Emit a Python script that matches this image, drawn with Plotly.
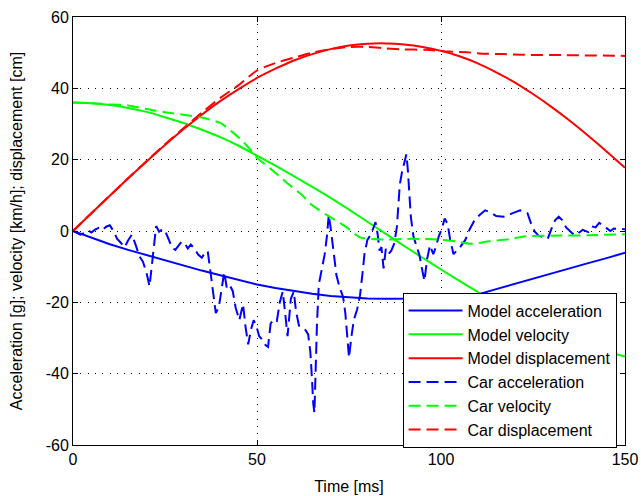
import plotly.graph_objects as go

# ---------------- data ----------------
t_model = [0, 5, 10, 15, 20, 25, 30, 35, 40, 45, 50, 55, 60, 65, 70, 75, 80, 85,
           90, 95, 100, 105, 110, 115, 120, 125, 130, 135, 140, 145, 150]

t_model_acc = [0, 5, 10, 15, 20, 25, 30, 35, 40, 45, 50, 55, 60, 65, 70, 75, 80, 85,
               90, 95, 100, 105, 108, 110, 115, 120, 125, 130, 135, 140, 145, 150]
model_acc = [0, -1.9, -3.7, -5.3, -6.8, -8.3, -9.7, -11.1, -12.4, -13.7, -15.0, -16.0,
             -16.9, -17.6, -18.2, -18.6, -18.9, -19.0, -19.0, -19.0, -19.0, -18.9, -18.5,
             -17.8, -16.3, -14.8, -13.4, -11.9, -10.5, -9.0, -7.6, -6.1]

model_vel = [36.0, 35.8, 35.3, 34.5, 33.4, 31.9, 30.3, 28.4, 26.3, 23.9, 21.1, 18.3,
             15.4, 12.4, 9.3, 6.0, 2.6, -0.8, -4.2, -7.5, -10.8, -14.0, -17.1, -20.0,
             -22.8, -25.4, -27.8, -30.0, -32.0, -33.7, -35.2]

model_disp = [0, 5.0, 9.9, 14.8, 19.5, 24.1, 28.5, 32.6, 36.4, 39.8, 42.9, 45.5, 47.8,
              49.6, 51.0, 52.0, 52.5, 52.6, 52.3, 51.6, 50.5, 49.0, 47.0, 44.5, 41.7,
              38.4, 34.8, 30.9, 26.7, 22.3, 17.7]

t_car_acc = [0, 1, 2, 3, 4, 5, 6, 7, 8, 9, 10, 11, 12, 13, 14, 15, 16, 17, 18, 19, 20,
             20.8, 21.4, 22.0, 22.6, 23.4, 24.4, 25.2, 26.2, 27.0, 27.8, 28.6, 29.5,
             30.3, 31.2, 32.0, 33.0, 34.0, 35.0, 35.8, 36.6, 37.3, 38.0, 38.8, 39.6,
             40.3, 41.1, 41.8, 42.6, 43.4, 44.2, 45.2, 46.2, 46.9, 47.6, 48.4, 49.1,
             49.8, 50.6, 51.4, 52.3, 53.0, 53.7, 54.6, 55.4, 56.2, 57.0, 57.6, 58.3,
             59.2, 60.0, 60.6, 61.4, 62.3, 63.2, 63.9, 64.5, 64.8, 65.0, 65.3, 65.6,
             65.9, 66.3, 66.8, 67.7, 68.4, 69.0, 69.5, 70.0, 70.5, 71.0, 71.6, 72.5,
             73.4, 74.0, 74.5, 75.0, 75.6, 76.3, 77.2, 78.0, 78.6, 79.2, 80.0, 80.8,
             81.5, 82.2, 82.8, 83.3, 83.8, 84.4, 85.0, 85.7, 86.5, 87.3, 88.0, 88.4,
             88.8, 89.4, 90.0, 90.6, 91.0, 91.4, 91.8, 92.5, 93.3, 94.2, 95.0, 95.5,
             96.2, 97.0, 97.9, 98.6, 99.4, 100.2, 101.0, 101.8, 102.5, 103.4, 104.3,
             105.2, 106.6, 107.8, 109.1, 110.5, 112.0, 113.5, 115.0, 117.0, 119.5,
             121.5, 123.5, 124.5, 125.5, 126.5, 128.0, 129.0, 129.9, 131.0, 132.0,
             133.0, 134.0, 135.5, 136.5, 137.5, 138.5, 140.0, 141.0, 142.0, 143.0,
             144.5, 146.0, 147.0, 148.5, 150.0]
car_acc = [0, -0.6, -1.0, -0.6, 0.2, -0.4, 0.4, 0.9, 0.3, 1.2, 1.6, 0.0, -2.2, -3.3,
           -4.6, -2.6, -1.0, -3.8, -7.0, -8.6, -11.8, -15.5, -10.0, -3.0, 1.4, -0.2,
           0.6, -0.4, -3.0, -4.8, -5.3, -4.3, -3.0, -3.4, -4.9, -3.8, -4.9, -6.6, -7.5,
           -6.2, -5.6, -11.0, -17.0, -23.0, -21.5, -16.5, -11.5, -16.0, -15.2, -16.8,
           -21.5, -25.0, -20.5, -27.0, -31.8, -27.5, -25.0, -26.5, -29.5, -30.5, -32.0,
           -32.5, -26.0, -24.7, -25.2, -20.0, -17.0, -22.5, -29.5, -19.0, -17.0, -22.5,
           -26.5, -27.0, -27.8, -29.0, -34.0, -39.0, -44.0, -48.5, -51.0, -38.0, -26.0,
           -15.0, -10.0, -6.5, -1.5, 4.5, 1.0, -3.0, -8.0, -12.5, -16.0, -18.5, -23.0,
           -29.0, -35.5, -30.0, -25.0, -22.0, -18.0, -12.5, -6.5, -2.5, -1.2, 0.5, 2.5,
           -1.0, -5.5, -4.5, -10.5, -5.0, -6.5, -5.5, -3.5, 1.0, 7.0, 13.0, 16.5, 19.5,
           21.5, 17.0, 11.0, 4.0, -1.5, -4.0, -7.0, -11.5, -14.0, -8.0, -4.0, -6.5, -4.5,
           -1.5, 0.5, 3.5, 2.0, -2.5, -6.5, -5.5, -4.5, -2.5, 0.5, 3.0, 4.5, 5.8, 5.2,
           4.2, 4.0, 5.0, 5.8, 5.0, 2.0, -0.2, -1.3, -1.8, -2.2, 0.3, 3.0, 4.0, 3.0, 1.0,
           -0.5, -1.2, -0.5, 0.3, -0.3, 1.3, 1.0, 2.3, 1.2, 0.0, 0.7, 0.5, 0.5]

t_car_vel = [0, 5, 10, 15, 20, 25, 30, 35, 40, 43, 46, 48, 50, 54, 58, 62, 65, 70, 74,
             78, 84, 92, 99, 104, 108, 113, 119, 123, 130, 140, 150]
car_vel = [36.0, 35.8, 35.5, 35.2, 34.2, 33.3, 32.6, 31.8, 30.3, 28.0, 25.3, 23.0, 20.5,
           17.2, 13.6, 10.3, 7.2, 3.8, 1.3, -1.8, -2.4, -2.2, -2.4, -2.9, -3.6, -2.9,
           -2.2, -1.5, -1.3, -1.2, -0.9]

t_car_disp = [0, 5, 10, 15, 20, 25, 30, 35, 40, 45, 50, 55, 60, 65, 70, 75, 80, 85, 90,
              96, 101, 107, 112, 117, 122, 134, 150]
car_disp = [0, 5.0, 9.9, 14.8, 19.6, 24.3, 28.8, 33.2, 37.3, 40.9, 45.0, 47.1, 48.6,
            50.0, 51.0, 51.6, 51.6, 51.2, 50.9, 50.8, 50.4, 50.1, 49.7, 49.6, 49.4, 49.3,
            49.1]

x_ticks = [0, 50, 100, 150]
y_ticks = [-60, -40, -20, 0, 20, 40, 60]

BLUE, GREEN, RED = "#0000ff", "#00ff00", "#ff0000"
DASH = "12px,6px"
FONT = "Liberation Sans, Arial, Helvetica, sans-serif"

fig = go.Figure()
fig.add_trace(go.Scatter(x=t_model_acc, y=model_acc, mode="lines", name="Model acceleration",
                         line=dict(color=BLUE, width=2)))
fig.add_trace(go.Scatter(x=t_model, y=model_vel, mode="lines", name="Model velocity",
                         line=dict(color=GREEN, width=2, shape="spline")))
fig.add_trace(go.Scatter(x=t_model, y=model_disp, mode="lines", name="Model displacement",
                         line=dict(color=RED, width=2, shape="spline")))
fig.add_trace(go.Scatter(x=t_car_acc, y=car_acc, mode="lines", name="Car acceleration",
                         line=dict(color=BLUE, width=2, dash=DASH)))
fig.add_trace(go.Scatter(x=t_car_vel, y=car_vel, mode="lines", name="Car velocity",
                         line=dict(color=GREEN, width=2, dash=DASH, shape="spline", smoothing=0.6)))
fig.add_trace(go.Scatter(x=t_car_disp, y=car_disp, mode="lines", name="Car displacement",
                         line=dict(color=RED, width=2, dash=DASH, shape="spline", smoothing=0.6)))

axis_common = dict(
    showline=True, linecolor="black", linewidth=1, mirror="ticks",
    ticks="inside", ticklen=5, tickcolor="black", tickwidth=1,
    showgrid=True, gridcolor="black", gridwidth=1, griddash="1px,6.3px",
    zeroline=False, automargin=False,
    tickfont=dict(family=FONT, size=16, color="black"),
)

fig.update_layout(
    template="none",
    width=641, height=496,
    margin=dict(l=73, r=16, t=17, b=51, pad=0),
    paper_bgcolor="white", plot_bgcolor="white",
    font=dict(family=FONT, size=16, color="black"),
    xaxis=dict(range=[0, 150], tickvals=x_ticks, ticktext=[str(v) for v in x_ticks],
               title=dict(text="Time [ms]", font=dict(family=FONT, size=16), standoff=13),
               **axis_common),
    yaxis=dict(range=[-60, 60], tickvals=y_ticks, ticktext=[str(v) for v in y_ticks],
               title=dict(text="Acceleration [g]; velocity [km/h]; displacement [cm]",
                          font=dict(family=FONT, size=16), standoff=19),
               **axis_common),
    showlegend=True,
    legend=dict(x=0.597, y=0.356, xanchor="left", yanchor="top",
                bgcolor="white", bordercolor="black", borderwidth=1,
                font=dict(family=FONT, size=16, color="black"),
                itemwidth=54, tracegroupgap=0),
)

fig.write_html("out.html")
